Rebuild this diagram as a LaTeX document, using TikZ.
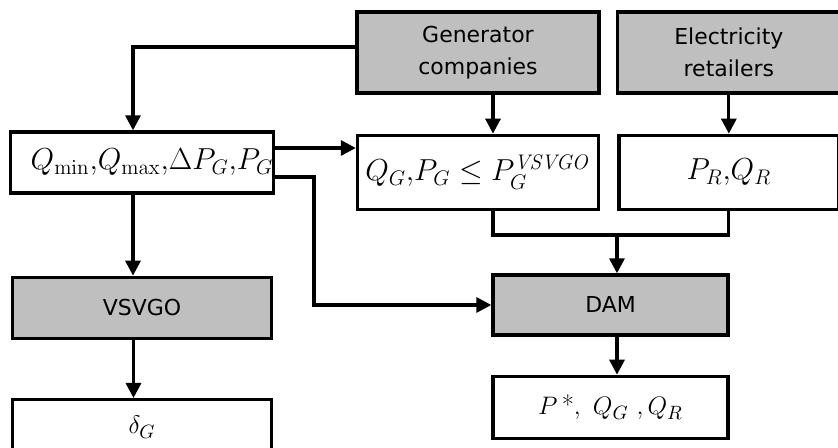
\documentclass[tikz,border=0pt]{standalone}
\usepackage{amsmath}
\usepackage[no-math]{fontspec}
\newfontfamily\boxfont{DejaVu Sans}
\usepackage{tikz}
\usetikzlibrary{arrows.meta, positioning}
\definecolor{boxgray}{RGB}{191,191,191}

\begin{document}
\begin{tikzpicture}[
			node distance=0.78cm and 0.3cm,
			block/.style={
				draw,
				line width=1.9pt,
				align=center,
				inner sep=0pt,
				minimum height=1.22cm,
				font=\fontsize{16.5}{19}\selectfont
			},
			actor/.style={
				block,
				fill=boxgray,
				font=\boxfont\fontsize{12.5}{18}\selectfont
			},
			result/.style={
				block,
				font=\fontsize{15}{18}\selectfont
			},
			arrow/.style={-{Triangle[length=3mm, width=3mm]}, line width=1.8pt},
			line/.style={line width=1.8pt}
			]
			\useasboundingbox (0,0) rectangle (16.76,8.96);
			
			\node[actor, minimum width=4.84cm, minimum height=1.62cm] (gen) at (9.56,7.91)
			{Generator\\companies};
			
			\node[actor, right=of gen, minimum width=4.46cm, minimum height=1.62cm] (elec)
			{Electricity\\retailers};
			
			\node[block, below=of gen, minimum width=4.82cm, minimum height=1.48cm] (qg)
			{$Q_G{,}P_G\le P_G^{\mathit{VSVGO}}$};
			
			\node[block, below=of elec, minimum width=4.40cm, minimum height=1.48cm] (pr)
			{$P_R{,}Q_R$};
			
			\node[block, minimum width=5.24cm] (qbox) at (2.84,5.71)
			{\hspace*{4mm}$Q_{\mathrm{min}}{,}Q_{\mathrm{max}}{,}\Delta P_G{,}P_G$};
			
			\node[actor, below=1.62cm of qbox, minimum width=5.18cm] (vsvgo)
			{VSVGO};
			
			\node[result, below=1.16cm of vsvgo, minimum width=5.18cm, minimum height=1.10cm] (delta)
			{$\delta_G$};
			
			\node[actor, minimum width=4.70cm, minimum height=1.20cm] (dam) at (12.21,2.86)
			{DAM};
			
			\node[result, below=0.76cm of dam, minimum width=4.70cm, minimum height=1.24cm] (out)
			{$P\,\text{*},\ Q_G\ ,Q_R$};
			
			\coordinate (merge) at (12.34,4.26);
			
			\draw[arrow] ([yshift=1.1mm]gen.west) -| ([xshift=-1.8mm]qbox.north);
			\draw[arrow] ([xshift=3mm]gen.south) -- ([xshift=3mm]gen.south |- qg.north);
			\draw[arrow] (elec) -- (elec |- pr.north);
			
			\draw[arrow] ([yshift=2.9mm]qbox.east) -- ([yshift=2.9mm]qbox.east -| qg.west);
			\draw[arrow] ([yshift=-2.9mm]qbox.east) -- ++(0.78,0) |- (dam.west);
			\draw[arrow] ([xshift=-1.8mm]qbox.south) -- ([xshift=-1.8mm]qbox.south |- vsvgo.north);
			\draw[arrow] ([xshift=-1.7mm]vsvgo.south) -- ([xshift=-1.7mm]vsvgo.south |- delta.north);
			
			\draw[line] ([xshift=3mm]qg.south) |- (merge) -| (pr.south);
			\draw[arrow] (merge) -- (merge |- dam.north);
			\draw[arrow] (merge |- dam.south) -- (merge |- out.north);
			
		\end{tikzpicture}
\end{document}
